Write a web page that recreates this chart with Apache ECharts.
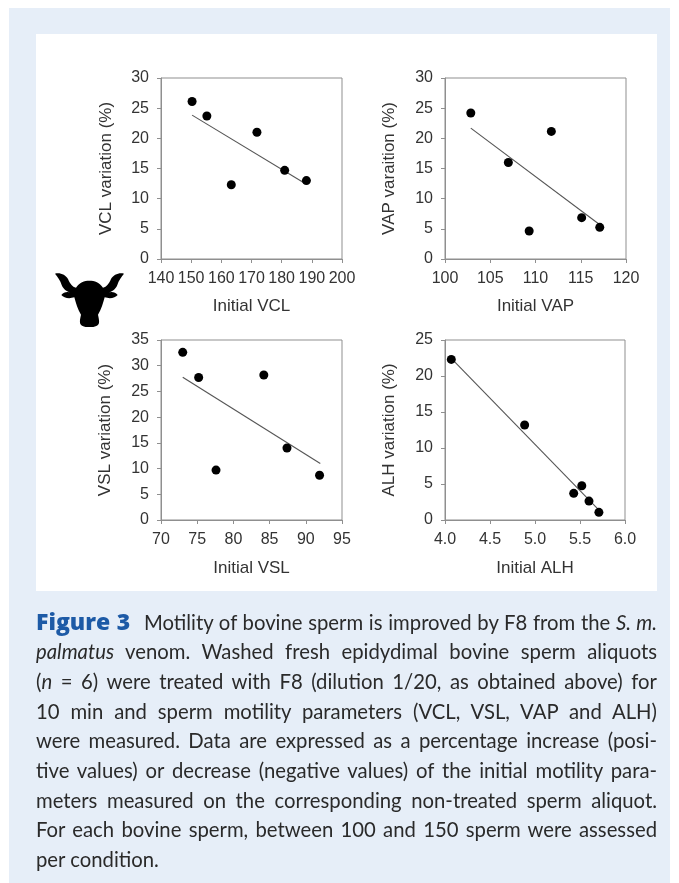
<!DOCTYPE html>
<html><head><meta charset="utf-8">
<script src="https://cdn.jsdelivr.net/npm/echarts@6/dist/echarts.min.js"></script>
<style>
html,body{margin:0;padding:0;background:#fff;width:679px;height:883px;overflow:hidden}
#panel{position:absolute;left:9px;top:8px;width:661px;height:875px;background:#e6eef8}
#white{position:absolute;left:36px;top:34px;width:621px;height:557px;background:#fff}
#chart{position:absolute;left:0;top:0;width:679px;height:883px}
#bull{position:absolute;left:55px;top:273.3px;width:69px;height:54px}
#caption{position:absolute;left:36px;top:606.5px;width:621px;font-family:Lato,"Open Sans",sans-serif;font-size:20.3px;line-height:29.7px;color:#2a2a2a}
#caption div{text-align:justify;text-align-last:justify;white-space:nowrap}
#caption div.last{text-align-last:left}
#caption b{font-family:"Open Sans",sans-serif;font-weight:800;font-size:23px;color:#1d5aa6;margin-right:8px}
</style></head>
<body>
<div id="panel"></div><div id="white"></div>
<div id="chart"></div>
<svg id="bull" viewBox="30 40 207 162" preserveAspectRatio="none"><path fill="#000" d="M133 63 C118 63 103 68 93 84 C82 82 75 72 69 58 C62 46 46 38 30 42 C38 52 46 62 50 76 C56 90 66 96 78 99 C68 95 55 97 49 106 C56 115 72 118 88 113 C93 130 98 150 108 165 C106 175 103 185 106 193 C112 202 125 203 133 203 C141 203 155 202 161 193 C164 185 161 175 159 165 C169 150 174 130 179 113 C195 118 211 115 218 106 C212 97 199 95 189 99 C201 96 211 90 217 76 C221 62 229 52 237 42 C221 38 205 46 198 58 C192 72 185 82 174 84 C164 68 149 63 133 63 Z"/></svg>
<div id="caption"></div>
<script>
// Data
const vclX = [150.3, 155.2, 163.3, 171.8, 181.0, 188.2];
const vclY = [26.1, 23.7, 12.3, 21.0, 14.7, 13.0];
const vclTrend = [[150.3, 23.85], [187.5, 12.6]];
const vapX = [102.85, 107.0, 109.3, 111.75, 115.1, 117.1];
const vapY = [24.2, 16.0, 4.65, 21.15, 6.85, 5.25];
const vapTrend = [[102.85, 21.7], [117.0, 5.8]];
const vslX = [73.0, 75.2, 77.6, 84.2, 87.4, 91.9];
const vslY = [32.6, 27.7, 9.7, 28.2, 14.0, 8.7];
const vslTrend = [[73.0, 27.75], [92.0, 11.0]];
const alhX = [4.07, 4.885, 5.43, 5.52, 5.6, 5.71];
const alhY = [22.3, 13.2, 3.7, 4.76, 2.63, 1.06];
const alhTrend = [[4.07, 22.45], [5.7, 1.5]];
const captionLines = [
 '<b>Figure 3</b> Motility of bovine sperm is improved by F8 from the <i>S. m.</i>',
 '<i>palmatus</i> venom. Washed fresh epidydimal bovine sperm aliquots',
 '(<i>n</i> = 6) were treated with F8 (dilution 1/20, as obtained above) for',
 '10 min and sperm motility parameters (VCL, VSL, VAP and ALH)',
 'were measured. Data are expressed as a percentage increase (posi-',
 'tive values) or decrease (negative values) of the initial motility para-',
 'meters measured on the corresponding non-treated sperm aliquot.',
 'For each bovine sperm, between 100 and 150 sperm were assessed',
 'per condition.'
];
document.getElementById('caption').innerHTML = captionLines.map((l,i)=>
  '<div'+(i===captionLines.length-1?' class="last"':'')+'>'+l+'</div>').join('');

const panels = [
 {x:vclX,y:vclY,t:vclTrend,xMin:140,xMax:200,xInt:10,yMax:30,yInt:5,xName:'Initial VCL',yName:'VCL variation (%)',dec:0,xGap:39,yGap:46,
  grid:{left:161,top:78,width:181,height:181}},
 {x:vapX,y:vapY,t:vapTrend,xMin:100,xMax:120,xInt:5,yMax:30,yInt:5,xName:'Initial VAP',yName:'VAP varaition (%)',dec:0,xGap:39,yGap:47,
  grid:{left:445,top:78,width:181,height:181}},
 {x:vslX,y:vslY,t:vslTrend,xMin:70,xMax:95,xInt:5,yMax:35,yInt:5,xName:'Initial VSL',yName:'VSL variation (%)',dec:0,xGap:40,yGap:47,
  grid:{left:161,top:340,width:181,height:180}},
 {x:alhX,y:alhY,t:alhTrend,xMin:4,xMax:6,xInt:0.5,yMax:25,yInt:5,xName:'Initial ALH',yName:'ALH variation (%)',dec:1,xGap:40,yGap:47,
  grid:{left:445,top:340,width:180,height:180}}
];
const FONT='"Liberation Sans",Arial,sans-serif', AX='#8f8f8f', TX='#333';
const axisCommon = {
  axisLine:{show:true,onZero:false,lineStyle:{color:AX,width:1}},
  axisTick:{show:true,inside:false,length:4,lineStyle:{color:AX,width:1}},
  splitLine:{show:false},
  nameLocation:'middle',
  nameTextStyle:{fontFamily:FONT,fontSize:17,color:TX}
};
const option = {
  animation:false,
  grid:panels.map(p=>({...p.grid,show:true,borderColor:AX,borderWidth:1,backgroundColor:'transparent',containLabel:false})),
  xAxis:panels.map((p,i)=>({...axisCommon,type:'value',gridIndex:i,min:p.xMin,max:p.xMax,interval:p.xInt,name:p.xName,nameGap:p.xGap,
    axisLabel:{fontFamily:FONT,fontSize:16,color:TX,margin:12,hideOverlap:false,showMinLabel:true,showMaxLabel:true,
      formatter:v=>v.toFixed(p.dec)}})),
  yAxis:panels.map((p,i)=>({...axisCommon,type:'value',gridIndex:i,min:0,max:p.yMax,interval:p.yInt,name:p.yName,nameGap:p.yGap,
    axisLabel:{fontFamily:FONT,fontSize:16,color:TX,margin:12,padding:[2,0,0,0],showMinLabel:true,showMaxLabel:true}})),
  series:panels.flatMap((p,i)=>[
    {type:'line',xAxisIndex:i,yAxisIndex:i,data:p.t,symbol:'none',lineStyle:{color:'#555',width:1.1},silent:true,z:2},
    {type:'scatter',xAxisIndex:i,yAxisIndex:i,data:p.x.map((v,k)=>[v,p.y[k]]),symbol:'circle',symbolSize:9,itemStyle:{color:'#000',opacity:1},z:3}
  ])
};
echarts.init(document.getElementById('chart')).setOption(option);
</script>
</body></html>
